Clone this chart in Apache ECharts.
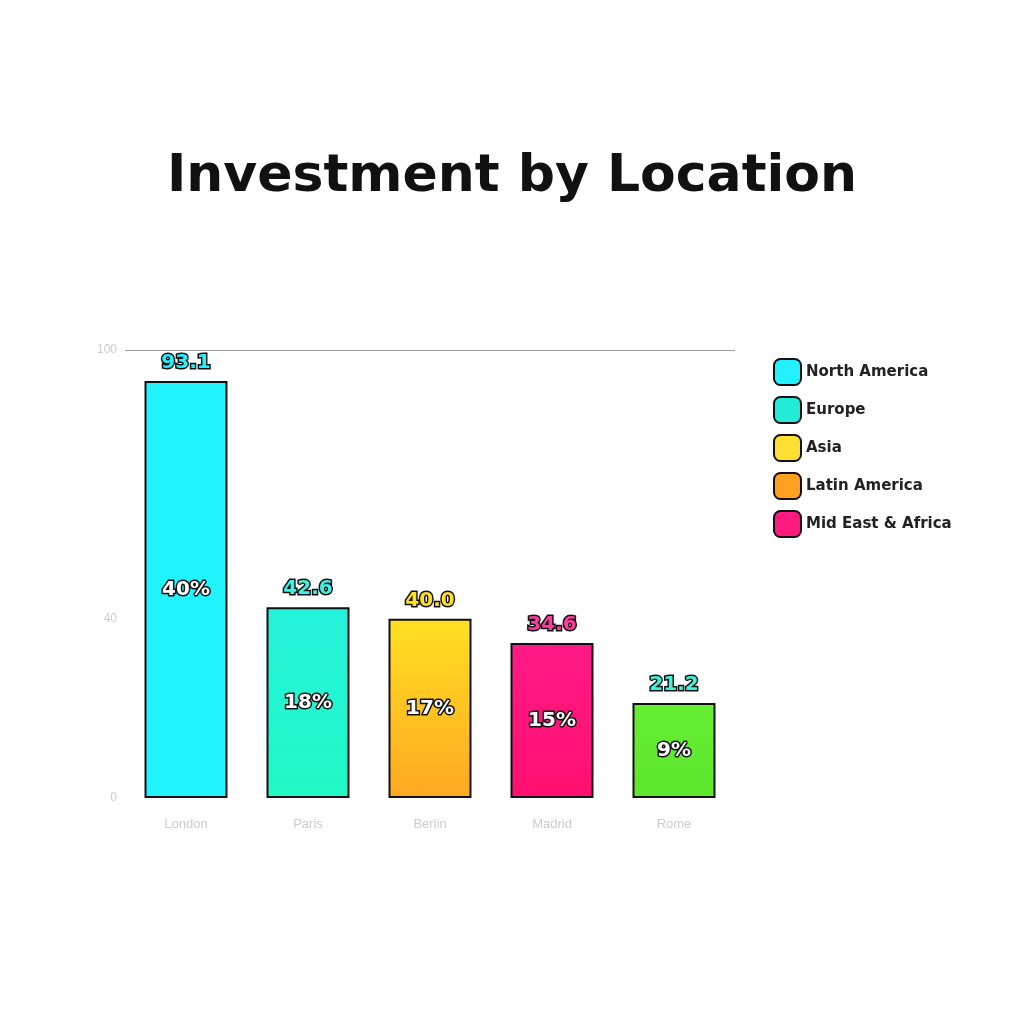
<!DOCTYPE html>
<html>
<head>
<meta charset="utf-8">
<script src="https://cdn.jsdelivr.net/npm/echarts@6/dist/echarts.min.js"></script>
<style>html,body{margin:0;padding:0;background:#fff}#c{width:1024px;height:1024px}</style>
</head>
<body>
<div id="c"></div>
<script>
const titleText = "Investment by Location";
const categories = ["London", "Paris", "Berlin", "Madrid", "Rome"];
const values = [93.1, 42.6, 40.0, 34.6, 21.2];
const yTickLabels = {0: "0", 40: "40", 100: "100"};
const legendNames = ["North America", "Europe", "Asia", "Latin America", "Mid East & Africa"];
const legendColors = ["#22f2ff", "#22ecd8", "#ffe033", "#ffa020", "#ff1a80"];
const barTop = ["#22f4ff", "#26f2dc", "#ffe022", "#ff1a86", "#66ee33"];
const barBottom = ["#22f4ff", "#20f8c4", "#ffa822", "#ff1070", "#5ce62c"];
const topLabelColors = ["#22f2ff", "#40f0e0", "#ffe022", "#ff3aa0", "#40f0d8"];

const total = values.reduce((a, b) => a + b, 0);

const chart = echarts.init(document.getElementById('c'));
const barData = values.map((v, i) => ({
  value: v,
  itemStyle: {
    color: new echarts.graphic.LinearGradient(0, 0, 0, 1, [
      {offset: 0, color: barTop[i]}, {offset: 1, color: barBottom[i]}
    ]),
    borderColor: '#111', borderWidth: 2
  }
}));
const labelData = values.map((v, i) => ({
  value: v,
  label: {color: topLabelColors[i]}
}));

const legendSeries = legendNames.map((n, i) => ({
  name: n, type: 'line', data: [],
  itemStyle: {color: legendColors[i], borderColor: '#111', borderWidth: 2},
  lineStyle: {color: legendColors[i]}
}));

chart.setOption({
  backgroundColor: '#fff',
  title: {
    text: titleText, left: 'center', top: 146,
    textStyle: {fontFamily: 'DejaVu Sans', fontWeight: 'bold', fontSize: 52, color: '#111'}
  },
  legend: {
    orient: 'vertical', left: 768, top: 353,
    itemWidth: 27, itemHeight: 26, itemGap: 10,
    icon: 'roundRect',
    data: legendNames,
    textStyle: {fontFamily: 'DejaVu Sans', fontWeight: 'bold', fontSize: 15, color: '#222'}
  },
  grid: {left: 125, right: 289, top: 350, bottom: 226, containLabel: false},
  xAxis: {
    type: 'category', data: categories,
    axisLine: {show: false}, axisTick: {show: false},
    axisLabel: {color: '#ccc', fontSize: 13, margin: 20}
  },
  yAxis: {
    type: 'value', min: 0, max: 100, interval: 20,
    splitLine: {show: false}, axisLine: {show: false}, axisTick: {show: false},
    axisLabel: {color: '#ccc', fontSize: 12, showMaxLabel: true,
      formatter: v => (yTickLabels[v] !== undefined ? yTickLabels[v] : '')}
  },
  series: [
    {
      type: 'bar', data: barData, barWidth: 83,
      label: {
        show: true, position: 'inside', color: '#fff',
        fontFamily: 'DejaVu Sans', fontWeight: 'bold', fontSize: 20,
        textBorderColor: '#111', textBorderWidth: 3,
        formatter: p => Math.round(p.value / total * 100) + '%'
      },
      markLine: {
        silent: true, symbol: 'none',
        lineStyle: {color: '#999', type: 'solid', width: 1},
        label: {show: false},
        data: [{yAxis: 100}]
      },
      z: 2
    },
    {
      type: 'bar', data: labelData, barWidth: 83, barGap: '-100%',
      itemStyle: {color: 'rgba(0,0,0,0)'},
      label: {
        show: true, position: 'top', distance: 8,
        fontFamily: 'DejaVu Sans', fontWeight: 'bold', fontSize: 20,
        textBorderColor: '#111', textBorderWidth: 3,
        formatter: p => p.value.toFixed(1)
      },
      z: 3
    },
    ...legendSeries
  ]
});
</script>
</body>
</html>
